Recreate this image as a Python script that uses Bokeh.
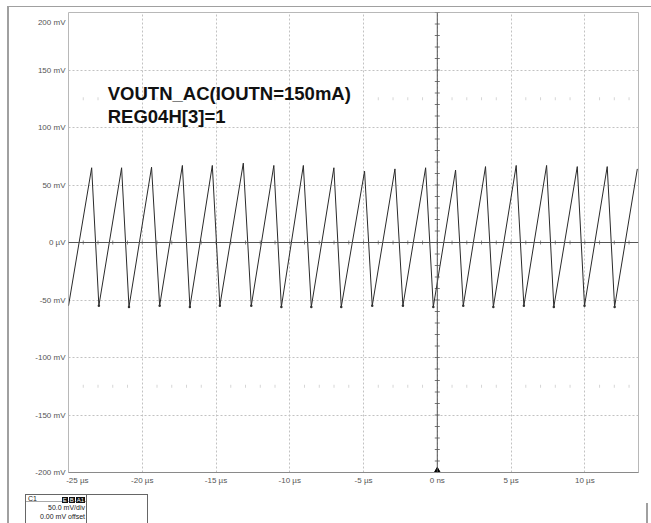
import numpy as np
from bokeh.plotting import figure
from bokeh.models import FixedTicker, Label, Span, Div
from bokeh.layouts import column
from bokeh.embed import file_html
from bokeh.resources import INLINE

# ---------------- data ----------------
start_t, start_v = -25.0, -55.0
peak_t = [-23.43, -21.40, -19.37, -17.28, -15.25, -13.15, -11.08, -9.08, -7.01,
          -4.93, -2.87, -0.79, 1.24, 3.27, 5.35, 7.41, 9.49, 11.52]
peak_v = [65, 65, 65.5, 67, 67, 69, 67, 67, 65, 62, 64, 65, 63, 66, 67, 67, 66, 66]
trough_t = [-22.94, -20.90, -18.82, -16.77, -14.74, -12.61, -10.57, -8.54, -6.51,
            -4.41, -2.33, -0.27, 1.76, 3.80, 5.87, 7.90, 9.98, 12.02]
trough_v = [-55, -56, -55, -56, -55, -55, -56, -56, -56, -55, -55, -56, -55, -56,
            -55, -56, -55, -56]
end_t, end_v = 13.56, 64.0

x_ticks = [-25, -20, -15, -10, -5, 0, 5, 10]
x_labels = ["-25 µs", "-20 µs", "-15 µs", "-10 µs", "-5 µs", "0 ns", "5 µs", "10 µs"]
y_ticks = [-200, -150, -100, -50, 0, 50, 100, 150, 200]
y_labels = ["-200 mV", "-150 mV", "-100 mV", "-50 mV", "0 µV", "50 mV", "100 mV",
            "150 mV", "200 mV"]

title_text = "VOUTN_AC(IOUTN=150mA)\nREG04H[3]=1"
channel = "C1"
badges = ["E", "B", "A1"]
scale_text = "50.0 mV/div"
offset_text = "0.00 mV offset"

# ---------------- build trace ----------------
t = [start_t]
v = [start_v]
for pt, pv, tt, tv in zip(peak_t, peak_v, trough_t, trough_v):
    t += [pt, tt]
    v += [pv, tv]
t.append(end_t)
v.append(end_v)

X0, X1 = -25.0, 13.64
Y0, Y1 = -200.0, 200.0

FONT = "Liberation Sans"
W, H = 642, 487
BL, BT, BR, BB = 59, 5, 13, 22

p = figure(width=W, height=H, x_range=(X0, X1), y_range=(Y0, Y1),
           output_backend="svg", toolbar_location=None,
           min_border_left=BL, min_border_right=BR, min_border_top=BT,
           min_border_bottom=BB,
           background_fill_color="white", border_fill_color="white")
p.outline_line_color = "#b8b8b8"
p.outline_line_width = 1

# edge labels are nudged inside the screen like the scope software does
x_over = {k: s for k, s in zip(x_ticks, x_labels)}
x_over[x_ticks[0]] = "\u00a0" * 8 + x_labels[0]
y_over = {k: s for k, s in zip(y_ticks, y_labels)}
y_over[y_ticks[-1]] = "\n" + y_labels[-1]

for ax, ticks, over in ((p.xaxis, x_ticks, x_over), (p.yaxis, y_ticks, y_over)):
    ax.ticker = FixedTicker(ticks=ticks)
    ax.major_label_overrides = over
    ax.major_tick_line_color = None
    ax.minor_tick_line_color = None
    ax.major_tick_out = 0
    ax.major_tick_in = 0
    ax.minor_tick_out = 0
    ax.minor_tick_in = 0
    ax.major_label_text_font = FONT
    ax.major_label_text_font_size = "8px"
    ax.major_label_text_color = "#555555"
    ax.major_label_standoff = 3
p.xaxis.axis_line_color = "#8a8a8a"
p.yaxis.axis_line_color = None

p.xgrid.ticker = FixedTicker(ticks=x_ticks)
p.ygrid.ticker = FixedTicker(ticks=y_ticks)
for g in (p.xgrid, p.ygrid):
    g.grid_line_color = "#c2c2c2"
    g.grid_line_dash = "2 2"
    g.grid_line_width = 1

# centre cross-hair with minor divisions
p.add_layout(Span(location=0, dimension="width", line_color="#555555", line_width=1))
p.add_layout(Span(location=0, dimension="height", line_color="#555555", line_width=1))
minor_t = np.arange(-25, 14, 1)
minor_v = np.arange(-200, 201, 10)
p.scatter(x=minor_t, y=np.zeros_like(minor_t), marker="dash", angle=np.pi / 2,
          size=4, line_color="#8a8a8a")
p.scatter(x=np.zeros_like(minor_v), y=minor_v, marker="dash", size=5,
          line_color="#777777")
faint_t = minor_t[minor_t % 5 != 0]
for lv in (125, -125):
    p.scatter(x=faint_t, y=np.full_like(faint_t, lv), marker="dash", angle=np.pi / 2,
              size=3, line_color="#d6d6d6")

# trigger marker at t = 0 on the bottom edge
p.scatter(x=[0], y=[Y0], marker="triangle", size=9, fill_color="black",
          line_color="black")

# waveform
p.line(t, v, line_color="#2a2a2a", line_width=1)
p.scatter(x=trough_t, y=trough_v, marker="circle", size=2.5,
          fill_color="#333333", line_color=None)

# annotation text
p.add_layout(Label(x=-22.34, y=138.7, text=title_text, text_font=FONT,
                   text_font_size="18.5px", text_font_style="bold",
                   text_color="#111111", text_baseline="top",
                   text_line_height=1.1))

# ---------------- channel descriptor box (HTML below the plot) ----------------
badge_html = "".join(
    f'<span style="display:inline-block;background:#111;color:#fff;'
    f'font-size:6px;line-height:6px;height:6px;padding:0 1px;margin-left:1px;">{b}</span>'
    for b in badges)
box_html = f"""
<div style="position:relative;width:{W}px;height:29px;font-family:'Liberation Sans',Arial,sans-serif;color:#222;overflow:hidden;">
  <div style="position:absolute;left:16px;top:0px;width:62px;height:32px;border:1px solid #666;box-sizing:border-box;background:#fff;">
    <div style="position:relative;height:7px;border-bottom:1px solid #aaa;">
      <span style="position:absolute;left:2px;top:0px;font-size:7px;line-height:7px;">{channel}</span>
      <span style="position:absolute;right:1px;top:0px;line-height:6px;">{badge_html}</span>
    </div>
    <div style="text-align:right;padding-right:1px;font-size:7px;line-height:8.5px;margin-top:2px;">{scale_text}<br>{offset_text}</div>
  </div>
  <div style="position:absolute;left:77px;top:0px;width:62px;height:32px;border:1px solid #666;box-sizing:border-box;background:#fff;"></div>
  <div style="position:absolute;left:637px;top:9px;width:2px;height:22px;background:#a0a0a0;"></div>
</div>
"""
d = Div(text=box_html, width=W, height=29, margin=0)

layout = column(p, d, spacing=0,
                styles={"margin-left": "7px", "margin-top": "6px",
                        "border-left": "2px solid #a0a0a0",
                        "border-top": "1px solid #a0a0a0"})

open("out.html", "w").write(file_html(layout, INLINE))
